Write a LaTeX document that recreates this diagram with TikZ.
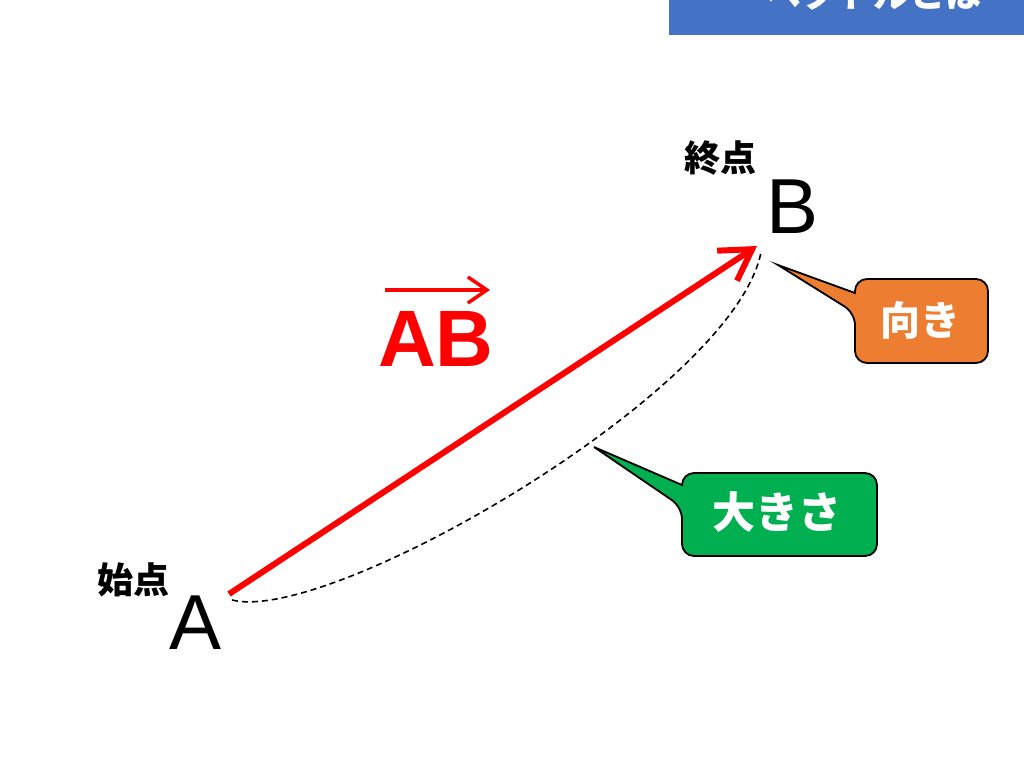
\documentclass[tikz,border=0pt]{standalone}
\usepackage{fontspec}
\newfontfamily\jp{Noto Sans CJK JP}
\newfontfamily\arial{Liberation Sans}
\usetikzlibrary{arrows.meta}
\definecolor{bannerblue}{HTML}{4472C4}
\definecolor{calorange}{HTML}{ED7D31}
\definecolor{calgreen}{HTML}{00B050}
\definecolor{vecred}{HTML}{FF0000}
\tikzset{
  jplabel/.style={font=\jp\bfseries\fontsize{36}{36}\selectfont, text=black, inner sep=0pt},
  pointlabel/.style={font=\arial\fontsize{78}{78}\selectfont, text=black, inner sep=0pt},
  vecline/.style={draw=vecred, line width=6pt, -{Straight Barb[length=30pt,width=36pt]}},
  overline/.style={draw=vecred, line width=3.5pt, -{Straight Barb[length=19pt,width=26pt]}},
  lenline/.style={draw=black, line width=1.6pt, dash pattern=on 6pt off 4pt},
  callout/.style={draw=black, line width=1.8pt},
  caltext/.style={font=\jp\bfseries\fontsize{#1}{#1}\selectfont, text=white, inner sep=0pt},
}
\begin{document}
\begin{tikzpicture}[x=1pt,y=-1pt]
\useasboundingbox (0,0) rectangle (1024,768);
\clip (0,0) rectangle (1024,768);
\fill[white] (0,0) rectangle (1024,768);
% banner
\fill[bannerblue] (669,0) rectangle (1024,35);
\node[anchor=base, text=white, inner sep=0pt, font=\jp\bfseries\fontsize{36}{36}\selectfont] (title) at (873,8) {ベクトルとは};
% points
\node[jplabel] (startlbl) at (133,580) {始点};
\node[pointlabel] (A) at (196,623) {A};
\node[jplabel] (endlbl) at (720,158) {終点};
\node[pointlabel] (B) at (792,207) {B};
\coordinate (As) at (229,594);
\coordinate (Bt) at (757,246);
\coordinate (Ad) at (232,600);
\coordinate (Bd) at (761,252);
% dashed magnitude curve
\draw[lenline] (Ad) .. controls (330,625) and (735,390) .. (Bd);
% vector
\draw[vecline] (As) -- (Bt);
% AB label
\node[font=\arial\bfseries\fontsize{80}{80}\selectfont, text=vecred, inner sep=0pt] (AB) at (436,339) {AB};
\coordinate (ovs) at (385,290);
\coordinate (ove) at (490,290);
\draw[overline] (ovs) -- (ove);
% orange callout
\coordinate (otip) at (778,265);
\draw[callout, fill=calorange] (920,279) [rounded corners=12pt] -- (988,279) -- (988,363) -- (855,363) -- (855,313) [sharp corners] -- (otip) -- (855,293) [rounded corners=12pt] -- (855,279) -- cycle;
\node[caltext=40] (dir) at (920,320) {向き};
% green callout
\coordinate (gtip) at (594,447);
\draw[callout, fill=calgreen] (780,473) [rounded corners=12pt] -- (877,473) -- (877,556) -- (682,556) -- (682,507) [sharp corners] -- (gtip) -- (682,485) [rounded corners=12pt] -- (682,473) -- cycle;
\node[caltext=43] (mag) at (777,512) {大きさ};
\end{tikzpicture}
\end{document}
